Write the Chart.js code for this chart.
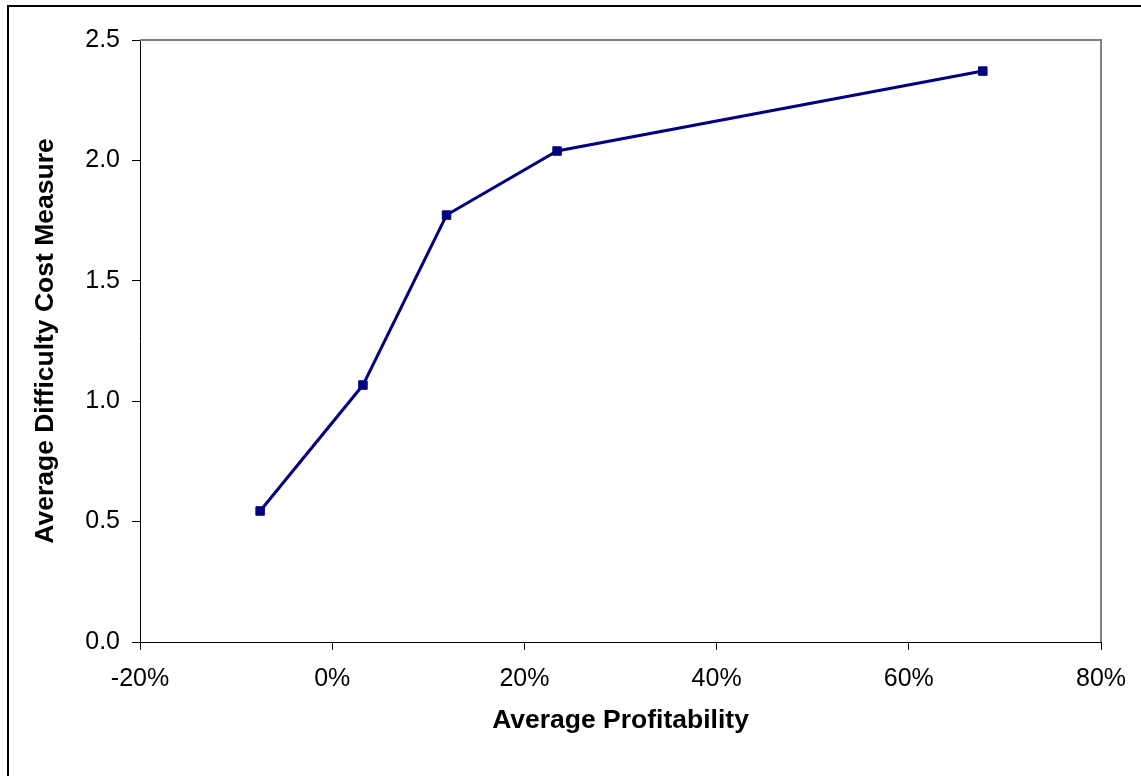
<!DOCTYPE html>
<html>
<head>
<meta charset="utf-8">
<script src="https://cdn.jsdelivr.net/npm/chart.js@4"></script>
<style>
    html, body { margin: 0; padding: 0; background: #fff; overflow: hidden; }
    #wrap { position: absolute; left: 0; top: 0; width: 1141px; height: 776px; }
    #frame {
        position: absolute; left: 7px; top: 5px; width: 1200px; height: 800px;
        border-top: 2px solid #000; border-left: 2px solid #000;
        pointer-events: none;
    }
</style>
</head>
<body>
<div id="wrap">
    <canvas id="chart"></canvas>
    <div id="frame"></div>
</div>
<script>
// Data
const profitability = [-0.075, 0.032, 0.119, 0.234, 0.677];
const difficulty = [0.544, 1.067, 1.773, 2.039, 2.371];

const xTitle = 'Average Profitability';
const yTitle = 'Average Difficulty Cost Measure';

const fontFamily = '"Liberation Sans", Arial, sans-serif';
const navy = '#000080';

// Gray frame on top and right of the plot area
const plotFrame = {
    id: 'plotFrame',
    afterDraw(chart) {
        const { ctx, chartArea: a } = chart;
        ctx.save();
        ctx.strokeStyle = '#808080';
        ctx.lineWidth = 2;
        ctx.beginPath();
        ctx.moveTo(a.left, a.top);
        ctx.lineTo(a.right, a.top);
        ctx.lineTo(a.right, a.bottom);
        ctx.stroke();
        ctx.restore();
    }
};

const points = profitability.map((x, i) => ({ x: x, y: difficulty[i] }));

new Chart(document.getElementById('chart'), {
    type: 'scatter',
    data: {
        datasets: [{
            data: points,
            showLine: true,
            borderColor: navy,
            backgroundColor: navy,
            borderWidth: 3,
            pointStyle: 'rect',
            pointRadius: 6,
            pointBorderWidth: 1,
            pointBorderColor: navy,
            pointBackgroundColor: navy
        }]
    },
    options: {
        responsive: true,
        maintainAspectRatio: false,
        animation: false,
        layout: { padding: { left: 0, top: 40, right: 40, bottom: 0 } },
        plugins: {
            legend: { display: false },
            tooltip: { enabled: false }
        },
        scales: {
            x: {
                type: 'linear',
                min: -0.2,
                max: 0.8,
                afterFit: s => { s.height = 134; },
                ticks: {
                    stepSize: 0.2,
                    padding: 14,
                    color: '#000',
                    font: { family: fontFamily, size: 25 },
                    callback: v => Math.round(v * 100) + '%'
                },
                grid: { drawOnChartArea: false, drawTicks: true, tickLength: 8, color: '#000' },
                border: { display: true, color: '#000', width: 1 },
                title: {
                    display: true,
                    text: xTitle,
                    color: '#000',
                    font: { family: fontFamily, size: 26.5, weight: 'bold' },
                    padding: { top: 0, bottom: 39 }
                }
            },
            y: {
                type: 'linear',
                min: 0,
                max: 2.5,
                afterFit: s => { s.width = 140; },
                ticks: {
                    stepSize: 0.5,
                    padding: 12,
                    color: '#000',
                    font: { family: fontFamily, size: 25 },
                    callback: v => v.toFixed(1)
                },
                grid: { drawOnChartArea: false, drawTicks: true, tickLength: 8, color: '#000' },
                border: { display: true, color: '#000', width: 1 },
                title: {
                    display: true,
                    text: yTitle,
                    color: '#000',
                    font: { family: fontFamily, size: 26.5, weight: 'bold' },
                    padding: { top: 30, bottom: 0 }
                }
            }
        }
    },
    plugins: [plotFrame]
});
</script>
</body>
</html>
